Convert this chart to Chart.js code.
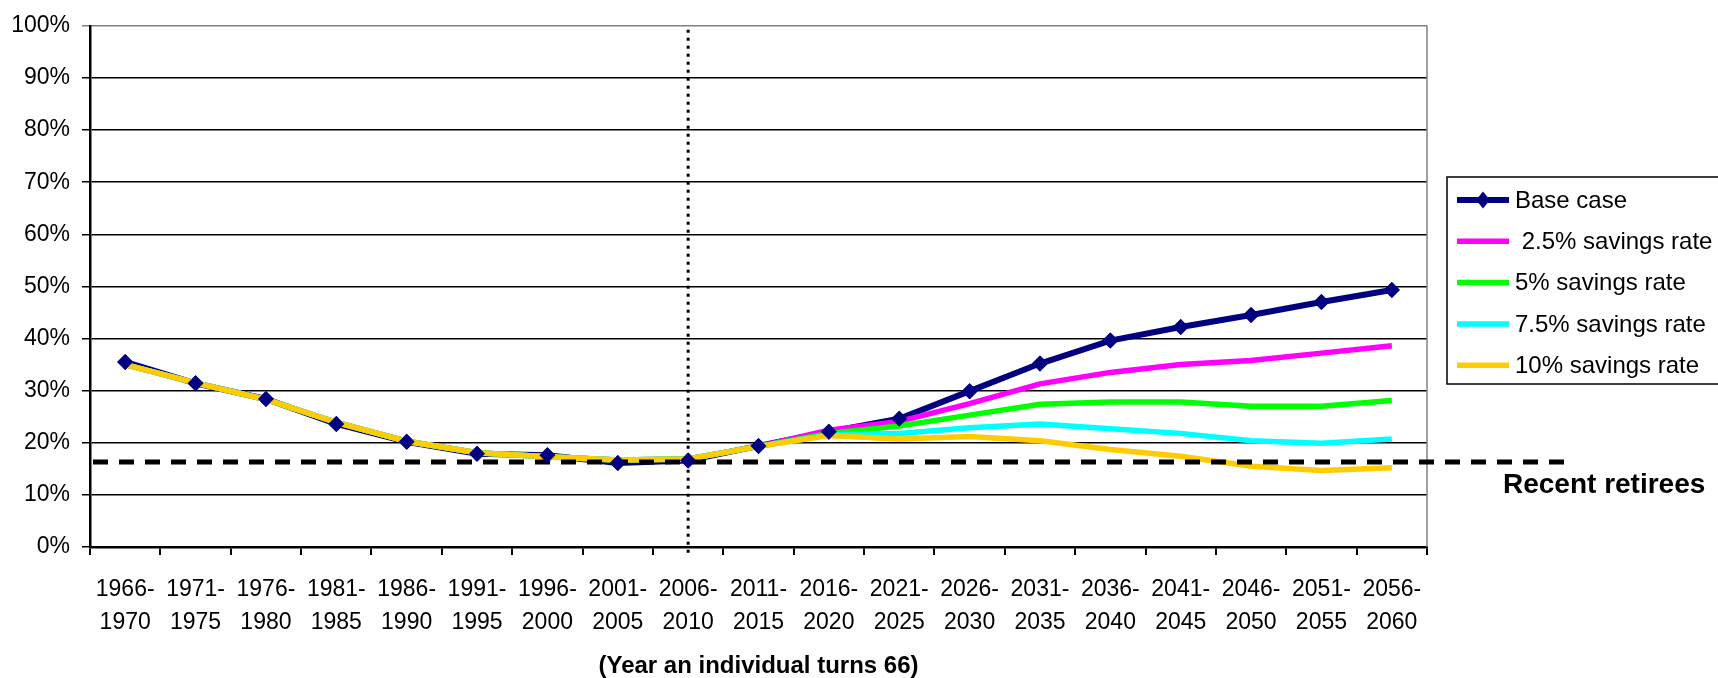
<!DOCTYPE html>
<html>
<head>
<meta charset="utf-8">
<script src="https://cdn.jsdelivr.net/npm/chart.js@4/dist/chart.umd.min.js"></script>
<style>
  html, body { margin: 0; padding: 0; background: #fff; }
  canvas { display: block; }
</style>
</head>
<body>
<canvas id="myChart" width="1718" height="678"></canvas>
<script>
// five-year cohorts, shown on two lines
const periods = [
  ['1966-', '1970'], ['1971-', '1975'], ['1976-', '1980'], ['1981-', '1985'],
  ['1986-', '1990'], ['1991-', '1995'], ['1996-', '2000'], ['2001-', '2005'],
  ['2006-', '2010'], ['2011-', '2015'], ['2016-', '2020'], ['2021-', '2025'],
  ['2026-', '2030'], ['2031-', '2035'], ['2036-', '2040'], ['2041-', '2045'],
  ['2046-', '2050'], ['2051-', '2055'], ['2056-', '2060']
]

const baseCase = [35.5, 31.4, 28.4, 23.6, 20.2, 17.9, 17.6, 16.1, 16.6, 19.4, 22.1, 24.6, 29.9, 35.2, 39.6, 42.2, 44.5, 47.0, 49.3]
const savings25 = [35.0, 31.5, 28.3, 23.9, 20.3, 18.1, 17.3, 16.7, 16.9, 19.3, 22.4, 24.1, 27.5, 31.3, 33.5, 35.0, 35.8, 37.2, 38.6]
const savings5 = [35.0, 31.5, 28.3, 23.9, 20.3, 18.1, 17.3, 16.7, 16.9, 19.3, 21.8, 23.2, 25.3, 27.4, 27.8, 27.8, 27.0, 27.0, 28.1]
const savings75 = [35.0, 31.5, 28.3, 23.9, 20.3, 18.1, 17.3, 16.7, 16.9, 19.3, 21.5, 21.8, 22.9, 23.6, 22.7, 21.8, 20.4, 19.9, 20.7]
const savings10 = [35.0, 31.5, 28.3, 23.9, 20.3, 18.1, 17.3, 16.7, 16.9, 19.3, 21.4, 20.7, 21.2, 20.4, 18.7, 17.4, 15.5, 14.7, 15.2]

const recentRetirees = 16.3
const projectionStart = 8 // index of the 2006-2010 cohort

const FONT = "'Liberation Sans', Arial, sans-serif"

// reference lines, right plot border and the boxed legend
const extras = {
  id: 'extras',
  beforeDatasetsDraw(chart) {
    const ctx = chart.ctx
    const a = chart.chartArea
    ctx.save()
    ctx.strokeStyle = '#808080'
    ctx.lineWidth = 1.5
    ctx.beginPath()
    ctx.moveTo(a.right, a.top)
    ctx.lineTo(a.right, a.bottom)
    ctx.stroke()
    ctx.restore()
  },
  afterDatasetsDraw(chart) {
    const ctx = chart.ctx
    const a = chart.chartArea
    const x = chart.scales.x
    const y = chart.scales.y

    ctx.save()
    // dotted divider between history and projection
    const px = x.getPixelForValue(projectionStart)
    ctx.strokeStyle = '#000'
    ctx.lineWidth = 3
    ctx.setLineDash([3, 5])
    ctx.beginPath()
    ctx.moveTo(px, a.top + 4)
    ctx.lineTo(px, a.bottom + 8)
    ctx.stroke()

    // recent retirees level
    const py = y.getPixelForValue(recentRetirees)
    ctx.lineWidth = 5
    ctx.setLineDash([15, 11])
    ctx.beginPath()
    ctx.moveTo(a.left + 3, py)
    ctx.lineTo(1572, py)
    ctx.stroke()
    ctx.setLineDash([])

    ctx.fillStyle = '#000'
    ctx.font = 'bold 28px ' + FONT
    ctx.textAlign = 'left'
    ctx.textBaseline = 'alphabetic'
    ctx.fillText('Recent retirees', 1503, 493)
    ctx.restore()

    // markers of the base case sit above every line
    chart.getDatasetMeta(0).data.forEach(function (pt) { pt.draw(ctx, a) })
  },
  afterDraw(chart) {
    const ctx = chart.ctx
    ctx.save()
    // legend box
    ctx.strokeStyle = '#000'
    ctx.lineWidth = 1.5
    ctx.strokeRect(1447, 177, 300, 207)
    ctx.font = '24px ' + FONT
    ctx.textAlign = 'left'
    ctx.textBaseline = 'middle'
    chart.data.datasets.forEach(function (ds, i) {
      const cy = 200 + i * 41.3
      ctx.strokeStyle = ds.borderColor
      ctx.lineWidth = ds.borderWidth
      ctx.beginPath()
      ctx.moveTo(1457, cy)
      ctx.lineTo(1509, cy)
      ctx.stroke()
      if (ds.pointRadius > 0) {
        ctx.fillStyle = ds.borderColor
        ctx.beginPath()
        ctx.moveTo(1483 - 7, cy)
        ctx.lineTo(1483, cy - 8.5)
        ctx.lineTo(1483 + 7, cy)
        ctx.lineTo(1483, cy + 8.5)
        ctx.closePath()
        ctx.fill()
      }
      ctx.fillStyle = '#000'
      ctx.fillText(ds.label, 1515, cy + 1)
    })
    ctx.restore()
  }
}

function series(label, data, color, order) {
  return {
    label: label,
    data: data,
    borderColor: color,
    backgroundColor: color,
    borderWidth: 5.5,
    pointRadius: 0,
    tension: 0,
    order: order
  }
}

const datasets = [
  series('Base case', baseCase, '#000080', 5),
  series(' 2.5% savings rate', savings25, '#FF00FF', 4),
  series('5% savings rate', savings5, '#00FF00', 3),
  series('7.5% savings rate', savings75, '#00FFFF', 2),
  series('10% savings rate', savings10, '#FFCC00', 1)
]
datasets[0].borderWidth = 6
datasets[0].pointStyle = 'rectRot'
datasets[0].pointRadius = 8
datasets[0].pointBorderWidth = 0
datasets[0].pointBackgroundColor = '#000080'
datasets[0].pointBorderColor = '#000080'

new Chart(document.getElementById('myChart'), {
  type: 'line',
  data: { labels: periods, datasets: datasets },
  options: {
    responsive: false,
    animation: false,
    events: [],
    layout: { padding: { top: 18, right: 291, bottom: 0, left: 0 } },
    plugins: {
      legend: { display: false },
      tooltip: { enabled: false }
    },
    scales: {
      x: {
        offset: true,
        afterFit: function (s) { s.height = 131 },
        grid: {
          offset: true,
          drawOnChartArea: false,
          color: '#000',
          lineWidth: 2,
          tickLength: 8
        },
        border: { color: '#000', width: 2.5 },
        ticks: {
          color: '#000',
          font: { family: FONT, size: 23, lineHeight: 1.43 },
          padding: 18,
          maxRotation: 0,
          autoSkip: false
        },
        title: {
          display: true,
          text: '(Year an individual turns 66)',
          color: '#000',
          font: { family: FONT, size: 24, weight: 'bold', lineHeight: 1 },
          padding: 0
        }
      },
      y: {
        min: 0,
        max: 100,
        afterFit: function (s) { s.width = 90 },
        grid: {
          color: function (c) { return c.tick.value === 100 ? '#808080' : '#000' },
          lineWidth: 1.5,
          tickLength: 8
        },
        border: { color: '#000', width: 2.5 },
        ticks: {
          stepSize: 10,
          color: '#000',
          padding: 12,
          font: { family: FONT, size: 23 },
          callback: function (v) { return v + '%' }
        }
      }
    }
  },
  plugins: [extras]
})
</script>
</body>
</html>
